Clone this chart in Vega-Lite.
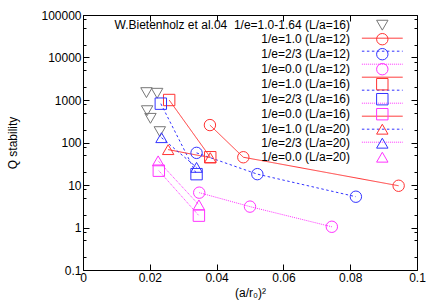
{
  "$schema": "https://vega.github.io/schema/vega-lite/v6.json",
  "width": 334,
  "height": 255,
  "autosize": {"type": "none"},
  "padding": {"left": 83, "top": 15, "right": 19, "bottom": 36},
  "background": "white",
  "config": {
    "view": {"stroke": null},
    "font": "Liberation Sans",
    "axis": {
      "domainColor": "black", "tickColor": "black", "labelColor": "black", "titleColor": "black",
      "labelFont": "Liberation Sans", "labelFontSize": 12, "titleFont": "Liberation Sans",
      "titleFontSize": 12, "titleFontWeight": "normal", "grid": false, "labelOverlap": false,
      "labelFlush": false, "tickWidth": 1, "domainWidth": 1
    },
    "legend": {
      "labelFont": "Liberation Sans", "labelFontSize": 12, "labelColor": "black",
      "padding": 0, "labelLimit": 500, "rowPadding": -2.6
    }
  },
  "data": {
    "values": [
      {"s": "W.Bietenholz et al.04\u00a0 1/e=1.0-1.64 (L/a=16)", "x": 0.0190, "q": 1490},
      {"s": "W.Bietenholz et al.04\u00a0 1/e=1.0-1.64 (L/a=16)", "x": 0.0222, "q": 1440},
      {"s": "W.Bietenholz et al.04\u00a0 1/e=1.0-1.64 (L/a=16)", "x": 0.0192, "q": 560},
      {"s": "W.Bietenholz et al.04\u00a0 1/e=1.0-1.64 (L/a=16)", "x": 0.0202, "q": 370},
      {"s": "W.Bietenholz et al.04\u00a0 1/e=1.0-1.64 (L/a=16)", "x": 0.0230, "q": 180},
      {"s": "1/e=1.0 (L/a=12)", "x": 0.0380, "q": 257},
      {"s": "1/e=1.0 (L/a=12)", "x": 0.0480, "q": 45},
      {"s": "1/e=1.0 (L/a=12)", "x": 0.0945, "q": 9.6},
      {"s": "1/e=2/3 (L/a=12)", "x": 0.0340, "q": 57},
      {"s": "1/e=2/3 (L/a=12)", "x": 0.0522, "q": 18},
      {"s": "1/e=2/3 (L/a=12)", "x": 0.0817, "q": 5.3},
      {"s": "1/e=0.0 (L/a=12)", "x": 0.0348, "q": 6.6},
      {"s": "1/e=0.0 (L/a=12)", "x": 0.0500, "q": 3.1},
      {"s": "1/e=0.0 (L/a=12)", "x": 0.0745, "q": 1.04},
      {"s": "1/e=1.0 (L/a=16)", "x": 0.0258, "q": 1000},
      {"s": "1/e=1.0 (L/a=16)", "x": 0.0381, "q": 45},
      {"s": "1/e=2/3 (L/a=16)", "x": 0.0233, "q": 820},
      {"s": "1/e=2/3 (L/a=16)", "x": 0.0340, "q": 18},
      {"s": "1/e=0.0 (L/a=16)", "x": 0.0227, "q": 21.7},
      {"s": "1/e=0.0 (L/a=16)", "x": 0.0347, "q": 1.9},
      {"s": "1/e=1.0 (L/a=20)", "x": 0.0255, "q": 68},
      {"s": "1/e=1.0 (L/a=20)", "x": 0.0381, "q": 44},
      {"s": "1/e=2/3 (L/a=20)", "x": 0.0235, "q": 130},
      {"s": "1/e=2/3 (L/a=20)", "x": 0.0340, "q": 26},
      {"s": "1/e=0.0 (L/a=20)", "x": 0.0225, "q": 37},
      {"s": "1/e=0.0 (L/a=20)", "x": 0.0347, "q": 3.4}
    ]
  },
  "layer": [
    {
      "transform": [{"filter": "indexof(datum.s, 'Bietenholz') < 0"}],
      "mark": {"type": "line", "strokeWidth": 1},
      "encoding": {
        "x": {
          "field": "x", "type": "quantitative",
          "scale": {"domain": [0, 0.1], "nice": false, "zero": false},
          "axis": {"orient": "bottom", "values": [0, 0.02, 0.04, 0.06, 0.08, 0.1], "format": "~g", "tickSize": -6, "labelPadding": 8, "title": "(a/r₀)²", "titlePadding": 4}
        },
        "y": {
          "field": "q", "type": "quantitative",
          "scale": {"type": "log", "domain": [0.1, 100000], "nice": false},
          "axis": {
            "orient": "left",
            "values": [0.1, 0.2, 0.5, 0.8, 1, 2, 5, 8, 10, 20, 50, 80, 100, 200, 500, 800, 1000, 2000, 5000, 8000, 10000, 20000, 50000, 80000, 100000],
            "labelExpr": "indexof([0.1,1,10,100,1000,10000,100000], datum.value) >= 0 ? format(datum.value, '~g') : ''",
            "tickSize": {"condition": {"test": "indexof([0.1,1,10,100,1000,10000,100000], datum.value) >= 0", "value": -6}, "value": -3},
            "labelPadding": 8,
            "title": "Q stability",
            "titlePadding": 21
          }
        },
        "color": {
          "field": "s", "type": "nominal",
          "scale": {
            "domain": ["W.Bietenholz et al.04\u00a0 1/e=1.0-1.64 (L/a=16)", "1/e=1.0 (L/a=12)", "1/e=2/3 (L/a=12)", "1/e=0.0 (L/a=12)", "1/e=1.0 (L/a=16)", "1/e=2/3 (L/a=16)", "1/e=0.0 (L/a=16)", "1/e=1.0 (L/a=20)", "1/e=2/3 (L/a=20)", "1/e=0.0 (L/a=20)", " "],
            "range": ["transparent", "#ff3333", "#3333ff", "#ff33ff", "#ff3333", "#3333ff", "#ff33ff", "#ff3333", "#3333ff", "#ff33ff", "transparent"]
          },
          "legend": {"orient": "none", "legendX": 292.8, "legendY": 3.7, "title": null, "symbolType": "M-3.4,0L3.4,0", "symbolSize": 144, "symbolStrokeWidth": 1, "labelAlign": "right", "labelOffset": -38.8, "labelExpr": "''"}
        },
        "strokeDash": {
          "field": "s", "type": "nominal",
          "scale": {
            "domain": ["W.Bietenholz et al.04\u00a0 1/e=1.0-1.64 (L/a=16)", "1/e=1.0 (L/a=12)", "1/e=2/3 (L/a=12)", "1/e=0.0 (L/a=12)", "1/e=1.0 (L/a=16)", "1/e=2/3 (L/a=16)", "1/e=0.0 (L/a=16)", "1/e=1.0 (L/a=20)", "1/e=2/3 (L/a=20)", "1/e=0.0 (L/a=20)", " "],
            "range": [[1, 0], [1, 0], [2.5, 2.5], [1, 1], [1, 0], [2.5, 2.5], [1, 1], [1, 0], [2.5, 2.5], [1, 1], [1, 0]]
          },
          "legend": {"orient": "none", "legendX": 292.8, "legendY": 3.7, "title": null, "symbolType": "M-3.4,0L3.4,0", "symbolSize": 144, "symbolStrokeWidth": 1, "labelAlign": "right", "labelOffset": -38.8, "labelExpr": "''"}
        }
      }
    },
    {
      "mark": {"type": "point", "filled": false, "size": 130, "strokeWidth": 1, "opacity": 1},
      "encoding": {
        "x": {
          "field": "x", "type": "quantitative",
          "axis": {"orient": "top", "values": [0, 0.02, 0.04, 0.06, 0.08, 0.1], "labels": false, "tickSize": -6, "title": null}
        },
        "y": {
          "field": "q", "type": "quantitative",
          "axis": {
            "orient": "right",
            "values": [0.1, 0.2, 0.5, 0.8, 1, 2, 5, 8, 10, 20, 50, 80, 100, 200, 500, 800, 1000, 2000, 5000, 8000, 10000, 20000, 50000, 80000, 100000],
            "labels": false,
            "tickSize": {"condition": {"test": "indexof([0.1,1,10,100,1000,10000,100000], datum.value) >= 0", "value": -6}, "value": -3},
            "title": null
          }
        },
        "stroke": {
          "field": "s", "type": "nominal",
          "scale": {
            "domain": ["W.Bietenholz et al.04\u00a0 1/e=1.0-1.64 (L/a=16)", "1/e=1.0 (L/a=12)", "1/e=2/3 (L/a=12)", "1/e=0.0 (L/a=12)", "1/e=1.0 (L/a=16)", "1/e=2/3 (L/a=16)", "1/e=0.0 (L/a=16)", "1/e=1.0 (L/a=20)", "1/e=2/3 (L/a=20)", "1/e=0.0 (L/a=20)"],
            "range": ["#777777", "#ff3333", "#3333ff", "#ff33ff", "#ff3333", "#3333ff", "#ff33ff", "#ff3333", "#3333ff", "#ff33ff"]
          },
          "legend": {"orient": "none", "legendX": 292.8, "legendY": 3.7, "title": null, "symbolSize": 130, "symbolStrokeWidth": 1, "labelAlign": "right", "labelOffset": -38.8}
        },
        "shape": {
          "field": "s", "type": "nominal",
          "scale": {
            "domain": ["W.Bietenholz et al.04\u00a0 1/e=1.0-1.64 (L/a=16)", "1/e=1.0 (L/a=12)", "1/e=2/3 (L/a=12)", "1/e=0.0 (L/a=12)", "1/e=1.0 (L/a=16)", "1/e=2/3 (L/a=16)", "1/e=0.0 (L/a=16)", "1/e=1.0 (L/a=20)", "1/e=2/3 (L/a=20)", "1/e=0.0 (L/a=20)"],
            "range": ["triangle-down", "circle", "circle", "circle", "square", "square", "square", "triangle-up", "triangle-up", "triangle-up"]
          },
          "legend": {"orient": "none", "legendX": 292.8, "legendY": 3.7, "title": null, "symbolSize": 130, "symbolStrokeWidth": 1, "labelAlign": "right", "labelOffset": -38.8}
        }
      }
    }
  ]
}
